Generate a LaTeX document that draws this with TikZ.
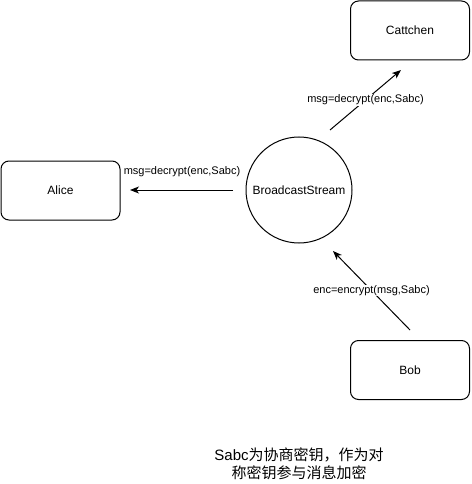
\documentclass[tikz,border=0pt]{standalone}
\usepackage{fontspec}
\setmainfont{Liberation Sans}
\newfontfamily\cjk{Noto Sans CJK SC}
\usetikzlibrary{arrows.meta}
\begin{document}
\begin{tikzpicture}[x=1pt,y=-1pt,
  party/.style={draw=black,line width=1pt,rounded corners=8pt,minimum width=119pt,minimum height=59pt,inner sep=0pt,font=\fontsize{12}{14}\selectfont},
  hub/.style={draw=black,line width=1pt,circle,minimum size=106pt,inner sep=0pt,font=\fontsize{12}{14}\selectfont},
  flow/.style={draw=black,line width=1pt,-{Stealth[length=9pt,width=7pt,inset=2.5pt]}},
  elabel/.style={fill=white,inner sep=0.5pt,font=\fontsize{11}{13}\selectfont}]
  \useasboundingbox (0,0) rectangle (471,484);

  % participants
  \node[party] (alice) at (60.5,190.5) {Alice};
  \node[party] (cat) at (410,30.5) {Cattchen};
  \node[party] (bob) at (410,370) {Bob};
  \node[hub] (bs) at (299,190) {BroadcastStream};

  % connector end points
  \coordinate (a0) at (233,190);
  \coordinate (a1) at (130,190);
  \coordinate (c0) at (330,130);
  \coordinate (c1) at (401,70);
  \coordinate (b0) at (410,330);
  \coordinate (b1) at (333,251);

  \draw[flow] (a0) -- (a1);
  \node[elabel,anchor=base] (la) at (182,174) {msg=decrypt(enc,Sabc)};

  \draw[flow] (c0) -- node[elabel] (lc) {msg=decrypt(enc,Sabc)} (c1);
  \draw[flow] (b0) -- node[elabel] (lb) {enc=encrypt(msg,Sabc)} (b1);

  % note
  \node[align=center,font=\fontsize{15}{18}\selectfont] (note) at (299,464)
    {Sabc{\cjk 为协商密钥，作为对}\\{\cjk 称密钥参与消息加密}};
\end{tikzpicture}
\end{document}
